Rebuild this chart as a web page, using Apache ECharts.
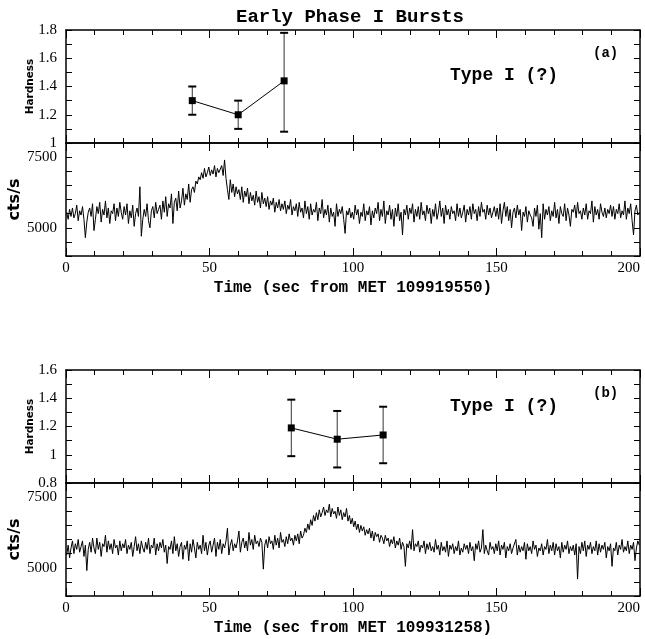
<!DOCTYPE html>
<html>
<head>
<meta charset="utf-8">
<script src="https://cdn.jsdelivr.net/npm/echarts@6/dist/echarts.min.js"></script>
<style>
html,body{margin:0;padding:0;background:#fff;}
#chart{width:645px;height:639px;}
</style>
</head>
<body>
<div id="chart"></div>
<script>
// ---------- DATA ----------
const titleText = 'Early Phase I Bursts';
const xTitleA = 'Time (sec from MET 109919550)';
const xTitleB = 'Time (sec from MET 109931258)';
const labelA = '(a)';
const labelB = '(b)';
const typeText = 'Type I (?)';

// hardness ratios, panel (a)
const hardTimeA = [44, 60, 76];
const hardA = [1.30, 1.20, 1.44];
const hardLoA = [1.20, 1.10, 1.08];
const hardHiA = [1.40, 1.30, 1.78];

// hardness ratios, panel (b)
const hardTimeB = [78.5, 94.5, 110.5];
const hardB = [1.19, 1.11, 1.14];
const hardLoB = [0.99, 0.91, 0.94];
const hardHiB = [1.39, 1.31, 1.34];

// 0.5-s binned count rates (cts/s), panel (a) -- one row = 10 s
const countsA = [
5550,5300,5650,5400,5700,5350,5500,5800,5250,5600,5450,5750,5300,4650,5200,5550,5700,5400,5850,4900,
5300,5750,5500,5900,5200,5650,5450,5950,5350,5700,5150,5600,5500,5850,5250,5700,5400,5900,5550,5300,
5750,5450,5850,5150,5600,5350,5800,5050,5500,5700,5400,6450,4700,5300,5650,5400,5850,5250,5000,5600,
5750,5350,5900,5500,5650,5800,5300,5950,5550,6100,5400,5850,5700,6200,5150,5900,6050,5600,6300,5700,
5950,6400,5800,6200,6000,6550,5900,6350,6450,6250,6650,6550,6800,6700,6950,6750,7100,6800,6950,7150,
6850,7050,6900,7200,6800,7100,6950,7000,7200,6850,7400,6750,6350,6000,6700,6250,6550,6100,6450,6200,
6350,6000,6450,5900,6300,6100,6400,5850,6250,5950,6150,5800,6300,5900,6100,5700,6250,5850,6050,5750,
6100,5650,5950,5800,6050,5550,5900,5700,6000,5600,5850,5650,5950,5500,5800,5650,6000,5450,5750,5600,
5850,5400,5900,5550,5700,5350,5950,5500,5750,5300,5850,5450,5650,5550,5900,5250,5700,5500,6000,5350,
5650,5450,5800,5200,5700,5400,5550,5050,5850,5400,5650,5500,5750,5300,4800,5600,5450,5700,5350,5550,
5300,5800,5450,5650,5150,5550,5400,5850,5250,5600,5450,5750,5100,5600,5350,5700,5500,5900,5250,5650,
5400,5950,5150,5600,5450,5800,5300,5650,5050,5700,5400,5850,5250,5550,4750,5650,5450,5800,5300,5700,
5500,5850,5200,5650,5400,5750,5300,5900,5450,5600,5250,5800,5500,5700,5150,5650,5400,5850,5300,5550,
5950,5400,5700,5150,5800,5450,5650,5300,5750,5500,5600,5250,5850,5400,5700,5350,5550,5800,5200,5650,
5450,5750,5300,5850,5500,5650,5250,5750,5400,5900,5550,5650,5300,5800,5450,5700,5350,5550,5750,5400,
5700,5300,5850,5150,5600,5900,5400,5750,5250,5650,5000,5550,5700,5350,5800,5450,5650,4900,5550,5400,
5750,5200,5600,5450,5350,5050,5700,5400,5800,4950,5500,4650,5850,5300,5650,5450,5750,5250,5600,5400,
5900,5350,5650,5150,5750,5500,5400,5850,5250,5700,5450,5050,5650,5550,5800,5350,5900,5500,5600,5300,
5700,5450,5850,5300,5600,5500,5950,5200,5750,5450,5650,5300,5850,5550,5400,5700,5350,5650,5500,5800,
5400,5750,5300,5650,5500,5850,5350,5600,5450,5950,5300,5700,5500,5850,5250,4750,5600,5800,5450,5550
];

// 0.5-s binned count rates (cts/s), panel (b) -- one row = 10 s
const countsB = [
5450,5800,5350,5700,5950,5500,5850,5650,6000,5550,5750,5950,5400,5800,4900,5650,5900,5550,6050,5700,
5500,6050,5650,5900,5400,5850,5750,6150,5550,5950,5650,5850,5500,6000,5700,5800,5450,5950,5600,5850,
5700,6000,5500,5800,5650,5900,5400,5750,6100,5600,5850,5500,5950,5700,5550,5900,5650,6050,5500,5800,
5700,6050,5450,5850,5600,5900,5700,6000,5550,5800,5150,5750,5650,5950,5500,6100,5600,5850,5400,5750,
5900,5300,5800,5650,5950,5250,5850,5550,6000,5700,5350,5900,5650,5800,5500,6150,5600,5900,5450,5800,
5950,5550,5800,6050,5400,5900,5650,6000,5500,5850,5700,5950,6400,5450,5800,6000,5600,5850,5700,5950,
6300,5550,5900,6050,5700,5950,5600,6250,5800,6000,5650,6150,5850,5950,5750,6050,5900,4950,5800,6000,
5700,6100,5850,5950,5650,6150,5800,6050,5700,6250,5900,6000,5750,6100,5850,6200,5950,6050,5800,6150,
5950,6200,5850,6300,6050,6150,6400,6250,6550,6350,6700,6500,6850,6650,6950,6700,7050,6800,6950,7150,
6850,7050,6950,7250,6800,7100,6900,7000,6750,7150,6850,7050,6700,6950,6800,7100,6650,6850,6550,6750,
6450,6650,6350,6550,6250,6500,6300,6450,6150,6350,6200,6400,6050,6300,5950,6250,6100,6200,5900,6150,
6050,5850,6150,5950,6050,5750,6000,5850,6100,5700,5950,5800,6050,5650,5900,5750,5050,5850,5700,5950,
5650,6350,5600,5850,5750,5950,5550,5800,5700,5950,5500,5850,5650,5900,5600,5750,5550,6000,5650,5800,
5450,5900,5600,5750,5550,5950,5400,5800,5650,5850,5500,5750,5600,5950,5450,5700,5550,5850,5650,5800,
5500,5900,5600,5750,5250,5850,5650,5950,5550,5700,6350,5500,5800,5600,5450,5900,5650,5750,5500,5850,
5600,5950,5450,5800,5650,5900,5350,5750,5600,5850,5500,5700,5650,6000,5450,5800,5550,5750,5600,5900,
5300,5850,5600,5750,5500,5950,5650,5800,5400,5700,5600,5850,5450,5750,5650,6000,5500,5800,5600,5900,
5450,5850,5600,5750,5350,5900,5550,5800,5650,5950,5500,5750,5600,5800,5450,5850,4600,5750,5500,5900,
5600,5950,5400,5800,5650,5900,5500,5750,5600,5950,5450,5850,5550,5800,5650,5900,5350,5750,5600,5850,
5050,5700,5600,5900,5450,5800,5650,6000,5550,5750,5600,5950,5500,5800,5650,5900,5250,5700,5950,5800
];
const binWidth = 0.5; // seconds

// ---------- CHART ----------
const chart = echarts.init(document.getElementById('chart'), null, {renderer:'canvas'});

const LEFT = 66, RIGHT = 5;
const gridBase = {left: LEFT, right: RIGHT, containLabel: false, outerBoundsMode: 'none'};
const grids = [
  Object.assign({top: 30, height: 113}, gridBase),
  Object.assign({top: 143, height: 113}, gridBase),
  Object.assign({top: 370, height: 113}, gridBase),
  Object.assign({top: 483, height: 113}, gridBase)
];

const serif = 'Liberation Serif';
const mono = 'Liberation Mono';
const lineStyle = {color: '#000', width: 1.5};

function xAx(grid, position, showLabels, name) {
  return {
    type: 'value', gridIndex: grid, position: position,
    min: 0, max: 200, interval: 50,
    axisLine: {show: true, onZero: false, lineStyle: lineStyle},
    axisTick: {show: true, inside: true, length: 8, lineStyle: {color: '#000', width: 1}},
    minorTick: {show: true, splitNumber: 5, length: 5, lineStyle: {color: '#000', width: 1}},
    splitLine: {show: false}, minorSplitLine: {show: false},
    axisLabel: {show: showLabels, color: '#000', fontFamily: serif, fontSize: 15, margin: 5,
      alignMaxLabel: 'right'},
    name: name || '', nameLocation: 'middle', nameGap: 24, nameMoveOverlap: false,
    nameTextStyle: {color: '#000', fontFamily: mono, fontWeight: 'bold', fontSize: 16}
  };
}

function yHard(grid, position, min, showLabels) {
  return {
    type: 'value', gridIndex: grid, position: position,
    min: min, max: min + 0.8, interval: 0.2,
    axisLine: {show: true, onZero: false, lineStyle: lineStyle},
    axisTick: {show: true, inside: true, length: 6, lineStyle: {color: '#000', width: 1}},
    minorTick: {show: true, splitNumber: 2, length: 6, lineStyle: {color: '#000', width: 1}},
    splitLine: {show: false}, minorSplitLine: {show: false},
    axisLabel: {show: showLabels, color: '#000', fontFamily: serif, fontSize: 15, margin: 9,
      padding: [9, 0, 0, 0],
      formatter: v => String(Math.round(v * 10) / 10)},
    name: showLabels ? 'Hardness' : '', nameLocation: 'middle', nameGap: 30, nameRotate: 90,
    nameMoveOverlap: false,
    nameTextStyle: {color: '#000', fontFamily: 'DejaVu Sans', fontWeight: 'bold', fontSize: 10.5}
  };
}

function yCts(grid, position, showLabels) {
  return {
    type: 'value', gridIndex: grid, position: position,
    min: 4000, max: 8000, interval: 500,
    axisLine: {show: true, onZero: false, lineStyle: lineStyle},
    axisTick: {show: true, inside: true, length: 6, lineStyle: {color: '#000', width: 1}},
    splitLine: {show: false},
    axisLabel: {show: showLabels, color: '#000', fontFamily: serif, fontSize: 15, margin: 9,
      formatter: v => (v === 5000 || v === 7500) ? String(v) : ''},
    name: showLabels ? 'cts/s' : '', nameLocation: 'middle', nameGap: 43, nameRotate: 90,
    nameMoveOverlap: false,
    nameTextStyle: {color: '#000', fontFamily: 'DejaVu Sans', fontWeight: 'bold', fontSize: 16}
  };
}

const xAxes = [
  xAx(0, 'bottom', false), xAx(0, 'top', false),
  xAx(1, 'bottom', true, xTitleA), xAx(1, 'top', false),
  xAx(2, 'bottom', false), xAx(2, 'top', false),
  xAx(3, 'bottom', true, xTitleB), xAx(3, 'top', false)
];
const yAxes = [
  yHard(0, 'left', 1.0, true), yHard(0, 'right', 1.0, false),
  yCts(1, 'left', true), yCts(1, 'right', false),
  yHard(2, 'left', 0.8, true), yHard(2, 'right', 0.8, false),
  yCts(3, 'left', true), yCts(3, 'right', false)
];

function zip3(t, a, b) { return t.map((x, i) => [x, a[i], b[i]]); }
function pairs(t, a) { return t.map((x, i) => [x, a[i]]); }
function lc(arr) { return arr.map((v, i) => [i * binWidth + binWidth / 2, v]); }

function renderErr(params, api) {
  const x = api.value(0), lo = api.value(1), hi = api.value(2);
  const pLo = api.coord([x, lo]), pHi = api.coord([x, hi]);
  const w = 4;
  return {
    type: 'group',
    children: [
      {type: 'line', shape: {x1: pLo[0], y1: pLo[1], x2: pHi[0], y2: pHi[1]}, style: {stroke: '#333', lineWidth: 1}},
      {type: 'line', shape: {x1: pLo[0] - w, y1: pLo[1], x2: pLo[0] + w, y2: pLo[1]}, style: {stroke: '#000', lineWidth: 2}},
      {type: 'line', shape: {x1: pHi[0] - w, y1: pHi[1], x2: pHi[0] + w, y2: pHi[1]}, style: {stroke: '#000', lineWidth: 2}}
    ]
  };
}

function hardSeries(xi, yi, t, v, lo, hi) {
  return [
    {type: 'custom', xAxisIndex: xi, yAxisIndex: yi, renderItem: renderErr,
     encode: {x: 0, y: [1, 2]}, data: zip3(t, lo, hi), silent: true, z: 3},
    {type: 'line', xAxisIndex: xi, yAxisIndex: yi, data: pairs(t, v),
     symbol: 'rect', symbolSize: 7, showSymbol: true,
     itemStyle: {color: '#000'}, lineStyle: {color: '#000', width: 1}, z: 4, silent: true, animation: false}
  ];
}

function lcSeries(xi, yi, arr) {
  return {type: 'line', xAxisIndex: xi, yAxisIndex: yi, data: lc(arr),
    showSymbol: false, symbol: 'none', lineStyle: {color: '#000', width: 1}, silent: true, animation: false};
}

const option = {
  backgroundColor: '#fff',
  animation: false,
  grid: grids,
  xAxis: xAxes,
  yAxis: yAxes,
  title: {
    text: titleText, left: 345, top: 3, textAlign: 'center',
    textStyle: {fontFamily: mono, fontWeight: 'bold', fontSize: 19, color: '#000'}
  },
  graphic: [
    {type: 'text', left: 450, top: 66, style: {text: typeText, fontFamily: mono, fontWeight: 'bold', fontSize: 18, fill: '#000'}},
    {type: 'text', left: 593, top: 46, style: {text: labelA, fontFamily: mono, fontWeight: 'bold', fontSize: 14, fill: '#000'}},
    {type: 'text', left: 450, top: 397, style: {text: typeText, fontFamily: mono, fontWeight: 'bold', fontSize: 18, fill: '#000'}},
    {type: 'text', left: 593, top: 386, style: {text: labelB, fontFamily: mono, fontWeight: 'bold', fontSize: 14, fill: '#000'}}
  ],
  series: [
    ...hardSeries(0, 0, hardTimeA, hardA, hardLoA, hardHiA),
    lcSeries(2, 2, countsA),
    ...hardSeries(4, 4, hardTimeB, hardB, hardLoB, hardHiB),
    lcSeries(6, 6, countsB)
  ]
};
chart.setOption(option);
</script>
</body>
</html>
